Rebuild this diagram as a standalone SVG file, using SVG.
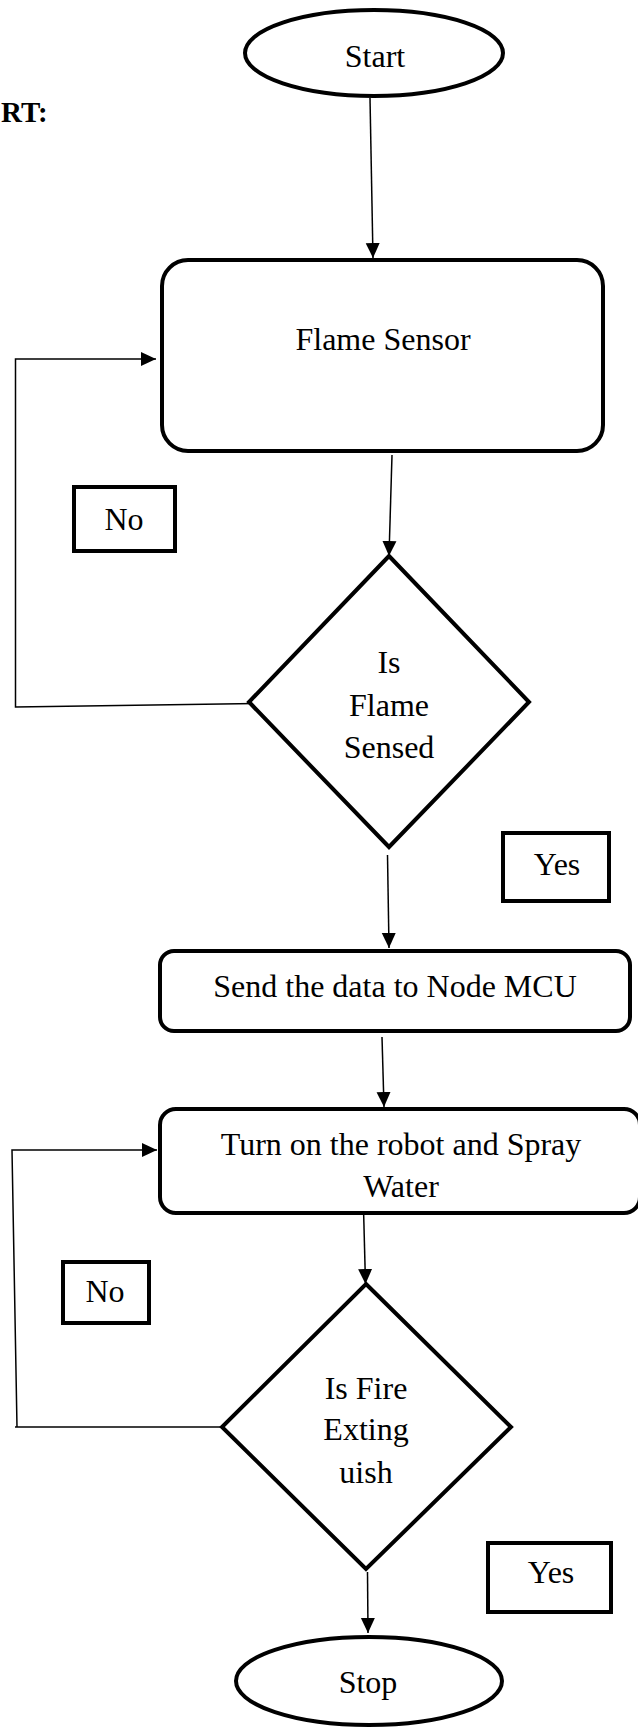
<svg xmlns="http://www.w3.org/2000/svg" width="638" height="1728" viewBox="0 0 638 1728">
<style>
.shape{fill:#fff;stroke:#000;stroke-width:4}
.lbl{fill:#fff;stroke:#000;stroke-width:4}
.t{font-family:"Liberation Serif","Times New Roman",serif;font-size:32px;fill:#000;text-anchor:middle}
.conn{fill:none;stroke:#000;stroke-width:1.5}
</style>
<defs>
<marker id="ah" markerUnits="userSpaceOnUse" markerWidth="16" markerHeight="16" viewBox="0 0 16 16" refX="15" refY="8" orient="auto">
<path d="M0,1 L15,8 L0,15 Z" fill="#000"/>
</marker>
</defs>
<rect width="638" height="1728" fill="#fff"/>
<text x="1" y="122" class="t" style="text-anchor:start;font-weight:bold;font-size:29px">RT:</text>

<g id="connectors">
<line class="conn" x1="370" y1="98" x2="373" y2="258" marker-end="url(#ah)"/>
<line class="conn" x1="392" y1="455" x2="389" y2="556" marker-end="url(#ah)"/>
<polyline class="conn" points="264,703.5 15.5,707 15.5,359 156,359" marker-end="url(#ah)"/>
<line class="conn" x1="387.5" y1="855" x2="389" y2="948" marker-end="url(#ah)"/>
<line class="conn" x1="382" y1="1037" x2="384" y2="1107" marker-end="url(#ah)"/>
<polyline class="conn" points="246,1427 15,1427" />
<polyline class="conn" points="17,1427 12,1150 157,1150" marker-end="url(#ah)"/>
<line class="conn" x1="363.5" y1="1208" x2="365.5" y2="1284" marker-end="url(#ah)"/>
<line class="conn" x1="367.5" y1="1572" x2="368" y2="1633" marker-end="url(#ah)"/>
</g>

<g id="start">
<ellipse class="shape" cx="374" cy="53" rx="129" ry="43"/>
<text class="t" x="375" y="67">Start</text>
</g>

<g id="flame-sensor">
<rect class="shape" x="162" y="260" width="441" height="191" rx="26" ry="26"/>
<text class="t" x="383" y="350">Flame Sensor</text>
</g>

<g id="no-label-1">
<rect class="lbl" x="74" y="487" width="101" height="64"/>
<text class="t" x="124" y="530">No</text>
</g>

<g id="is-flame-sensed">
<polygon class="shape" points="389,556 529,702 389,847 249,702"/>
<text class="t" x="389" y="673">Is</text>
<text class="t" x="389" y="716">Flame</text>
<text class="t" x="389" y="758">Sensed</text>
</g>

<g id="yes-label-1">
<rect class="lbl" x="503" y="833" width="106" height="68"/>
<text class="t" x="557" y="875">Yes</text>
</g>

<g id="send-data">
<rect class="shape" x="160" y="951" width="470" height="80" rx="14" ry="14"/>
<text class="t" x="395" y="997">Send the data to Node MCU</text>
</g>

<g id="turn-on-robot">
<rect class="shape" x="160" y="1109" width="480" height="104" rx="16" ry="16"/>
<text class="t" x="401" y="1155">Turn on the robot and Spray</text>
<text class="t" x="401" y="1197">Water</text>
</g>

<g id="no-label-2">
<rect class="lbl" x="63" y="1262" width="86" height="61"/>
<text class="t" x="105" y="1302">No</text>
</g>

<g id="is-fire-extinguish">
<polygon class="shape" points="366,1284 511,1427 366,1569 222,1427"/>
<text class="t" x="366" y="1399">Is Fire</text>
<text class="t" x="366" y="1440">Exting</text>
<text class="t" x="366" y="1483">uish</text>
</g>

<g id="yes-label-2">
<rect class="lbl" x="488" y="1543" width="123" height="69"/>
<text class="t" x="551" y="1583">Yes</text>
</g>

<g id="stop">
<ellipse class="shape" cx="369" cy="1681" rx="133" ry="44"/>
<text class="t" x="368" y="1693">Stop</text>
</g>
</svg>
